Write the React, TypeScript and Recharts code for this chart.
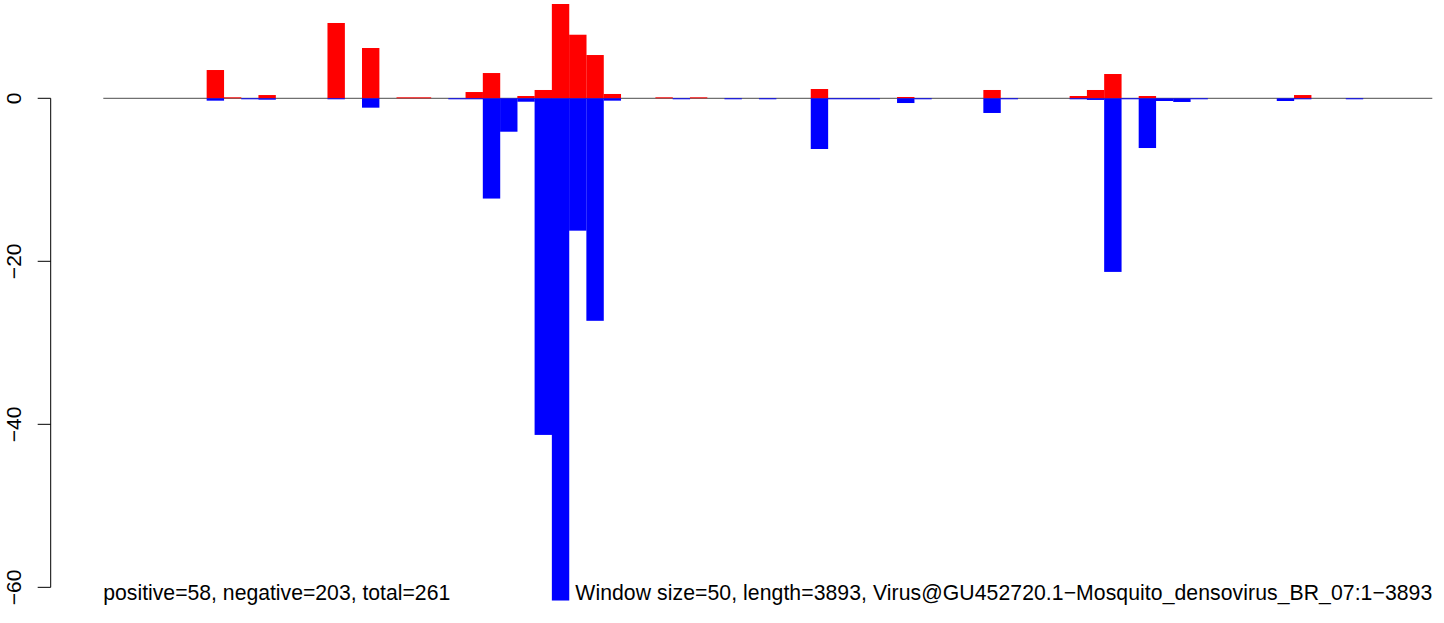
import { BarChart, Bar, XAxis, YAxis, ReferenceLine } from 'recharts'

// per-window counts (window size 50, 77 windows)
const positive = [
  0, 0, 0, 0, 0, 0, 3.47, 0.12, 0, 0.4,
  0, 0, 0, 9.24, 0, 6.17, 0, 0.12, 0.12, 0,
  0, 0.77, 3.1, 0, 0.28, 1.02, 11.57, 7.8, 5.31, 0.53,
  0, 0, 0.12, 0, 0.12, 0, 0, 0, 0, 0,
  0, 1.14, 0, 0, 0, 0, 0.16, 0, 0, 0,
  0, 1.02, 0, 0, 0, 0, 0.28, 1.02, 2.98, 0,
  0.28, 0, 0, 0, 0, 0, 0, 0, 0, 0.4,
  0, 0, 0, 0, 0, 0, 0,
]

const negative = [
  0, 0, 0, 0, 0, 0, -0.29, 0, -0.12, -0.17,
  0, 0, 0, -0.12, 0, -1.15, 0, 0, 0, 0,
  -0.12, -0.12, -12.3, -4.1, -0.42, -41.3, -61.64, -16.24, -27.3, -0.29,
  0, 0, 0, -0.12, 0, 0, -0.12, 0, -0.12, 0,
  0, -6.22, -0.12, -0.12, -0.12, 0, -0.58, -0.12, 0, 0,
  0, -1.8, -0.12, 0, 0, 0, -0.12, -0.2, -21.3, -0.12,
  -6.1, -0.33, -0.45, -0.12, 0, 0, 0, 0, -0.33, -0.12,
  0, 0, -0.12, 0, 0, 0, 0,
]

const yTicks = [0, -20, -40, -60]

const leftNote = 'positive=58, negative=203, total=261'
const rightNote = 'Window size=50, length=3893, Virus@GU452720.1\u2212Mosquito_densovirus_BR_07:1\u22123893'

const W = 1444
const H = 623
const margin = { top: 4, right: 11.7, bottom: 22.3, left: 0 }
const AXIS_W = 103.3
const FONT = '"Liberation Sans", Arial, Helvetica, sans-serif'

const yMin = Math.min(...negative)
const yMax = Math.max(...positive)
const pxPerUnit = (H - margin.top - margin.bottom) / (yMax - yMin)

const data = positive.map((p, i) => ({ win: i + 1, pos: p, neg: negative[i] }))

// R-style axis: offset from the plot, line only spans the tick range
function AxisTick(props: any) {
  const { x, y, payload } = props
  const axisX = x - 52.6
  const v = payload.value
  const span = (v - yTicks[yTicks.length - 1]) * pxPerUnit
  return (
    <g>
      {v === yTicks[0] && (
        <line x1={axisX} x2={axisX} y1={y} y2={y + span} stroke="#000" strokeWidth={1} />
      )}
      <line x1={axisX - 13} x2={axisX} y1={y} y2={y} stroke="#000" strokeWidth={1} />
      <text
        x={axisX - 30}
        y={y}
        transform={`rotate(-90, ${axisX - 30}, ${y})`}
        textAnchor="middle"
        fontSize={21}
        fontFamily={FONT}
        fill="#000"
      >
        {v === 0 ? '0' : '\u2212' + Math.abs(v)}
      </text>
    </g>
  )
}

function FlatBar(props: any) {
  const { x, y, width, height, fill } = props
  if (!height) return null
  const top = height < 0 ? y + height : y
  return <rect x={x - 0.2} y={top} width={width + 0.4} height={Math.abs(height)} fill={fill} />
}

export default function App() {
  return (
    <div style={{ position: 'absolute', left: 0, top: 0, width: W, height: H, background: '#fff' }}>
      <BarChart
        width={W}
        height={H}
        data={data}
        margin={margin}
        stackOffset="sign"
        barCategoryGap={0}
        barGap={0}
      >
        <XAxis dataKey="win" hide />
        <YAxis
          width={AXIS_W}
          domain={[yMin, yMax]}
          ticks={yTicks}
          allowDataOverflow
          axisLine={false}
          tickLine={false}
          tickSize={0}
          tickMargin={0}
          tick={<AxisTick />}
          interval={0}
        />
        <ReferenceLine y={0} stroke="#4d4d4d" strokeWidth={1} zIndex={0} />
        <Bar dataKey="pos" stackId="s" fill="#ff0000" shape={<FlatBar />} isAnimationActive={false} />
        <Bar dataKey="neg" stackId="s" fill="#0000ff" shape={<FlatBar />} isAnimationActive={false} />
      </BarChart>
      <svg
        width={W}
        height={H}
        style={{ position: 'absolute', left: 0, top: 0, pointerEvents: 'none' }}
      >
        <text x={103.3} y={600} fontSize={21.2} fontFamily={FONT} fill="#000">
          {leftNote}
        </text>
        <text x={1432.3} y={600} fontSize={21.2} fontFamily={FONT} fill="#000" textAnchor="end" letterSpacing={0.07}>
          {rightNote}
        </text>
      </svg>
    </div>
  )
}
